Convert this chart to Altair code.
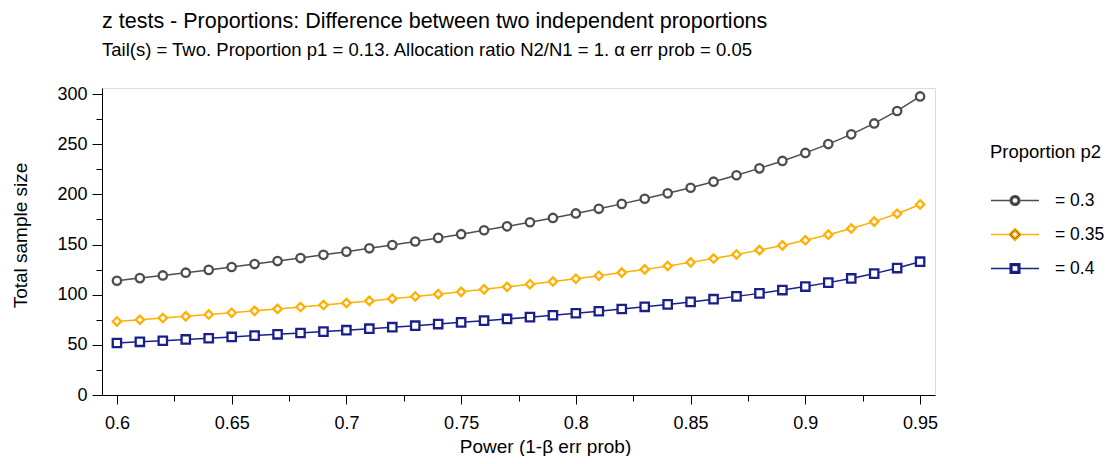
import altair as alt
import pandas as pd

# ---- data ----
power = [0.60, 0.61, 0.62, 0.63, 0.64, 0.65, 0.66, 0.67, 0.68, 0.69,
         0.70, 0.71, 0.72, 0.73, 0.74, 0.75, 0.76, 0.77, 0.78, 0.79,
         0.80, 0.81, 0.82, 0.83, 0.84, 0.85, 0.86, 0.87, 0.88, 0.89,
         0.90, 0.91, 0.92, 0.93, 0.94, 0.95]

series_labels = ["= 0.3", "= 0.35", "= 0.4"]

n_p2_030 = [113.9, 116.5, 119.2, 121.9, 124.7, 127.6, 130.5, 133.5, 136.5, 139.7,
            142.9, 146.2, 149.5, 153.0, 156.6, 160.3, 164.2, 168.1, 172.2, 176.5,
            181.0, 185.6, 190.5, 195.6, 201.0, 206.6, 212.6, 219.0, 225.9, 233.3,
            241.3, 250.1, 259.8, 270.7, 283.1, 297.6]

n_p2_035 = [73.3, 75.0, 76.7, 78.4, 80.2, 82.0, 83.9, 85.8, 87.7, 89.7,
            91.7, 93.8, 96.0, 98.2, 100.5, 102.8, 105.3, 107.8, 110.4, 113.1,
            115.9, 118.9, 122.0, 125.2, 128.6, 132.2, 136.0, 140.1, 144.4, 149.1,
            154.2, 159.8, 165.9, 172.8, 180.7, 189.9]

n_p2_040 = [51.8, 53.0, 54.1, 55.4, 56.6, 57.9, 59.2, 60.5, 61.8, 63.2,
            64.6, 66.1, 67.6, 69.1, 70.7, 72.4, 74.1, 75.8, 77.6, 79.5,
            81.5, 83.5, 85.7, 87.9, 90.3, 92.8, 95.5, 98.3, 101.3, 104.6,
            108.1, 112.0, 116.2, 121.0, 126.5, 132.9]

x_major = [0.6, 0.65, 0.7, 0.75, 0.8, 0.85, 0.9, 0.95]
x_minor = [0.625, 0.675, 0.725, 0.775, 0.825, 0.875, 0.925]
y_major = [0, 50, 100, 150, 200, 250, 300]
y_minor = [25, 75, 125, 175, 225, 275]

title_text = "z tests - Proportions: Difference between two independent proportions"
subtitle_text = "Tail(s) = Two. Proportion p1 = 0.13. Allocation ratio N2/N1 = 1. \u03b1 err prob = 0.05"

# ---- styling ----
FONT = "Liberation Sans"
colors = ["#4D4D4D", "#FFB000", "#1A1F8A"]
shapes = ["circle", "diamond", "square"]

rows = []
for lab, vals in zip(series_labels, [n_p2_030, n_p2_035, n_p2_040]):
    for p, v in zip(power, vals):
        rows.append({"power": p, "n": v, "p2": lab})
df = pd.DataFrame(rows)

x_scale = alt.Scale(domain=[0.5935, 0.9565], nice=False, zero=False)
y_scale = alt.Scale(domain=[0, 306], nice=False)
color_scale = alt.Scale(domain=series_labels, range=colors)
shape_scale = alt.Scale(domain=series_labels, range=shapes)

# legend symbol paths: line segment + hollow marker (annulus)
circ = ("M-1,0L-0.2,0M0.2,0L1,0"
        "M0.2,0A0.2,0.2 0 1,0 -0.2,0A0.2,0.2 0 1,0 0.2,0Z"
        "M0.13,0A0.13,0.13 0 1,1 -0.13,0A0.13,0.13 0 1,1 0.13,0Z")
diam = ("M-1,0L-0.25,0M0.25,0L1,0"
        "M-0.25,0L0,-0.25L0.25,0L0,0.25Z"
        "M-0.14,0L0,0.14L0.14,0L0,-0.14Z")
sqr = ("M-1,0L-0.2,0M0.2,0L1,0"
       "M-0.2,-0.2L0.2,-0.2L0.2,0.2L-0.2,0.2Z"
       "M-0.13,-0.13L-0.13,0.13L0.13,0.13L0.13,-0.13Z")
legend_shape_scale = alt.Scale(domain=series_labels, range=[circ, diam, sqr])

axis_common = dict(
    domainColor="black", domainWidth=1, tickColor="black", tickWidth=1,
    labelFont=FONT, labelFontSize=18, labelColor="black",
    titleFont=FONT, titleFontSize=19, titleColor="black", titleFontWeight="normal",
    grid=False,
)

x_axis = alt.Axis(values=x_major, format=".2~f", tickSize=9, labelPadding=10,
                  title="Power (1-\u03b2 err prob)", titlePadding=5, titleX=443,
                  orient="bottom", labelFlush=False, **axis_common)
y_axis = alt.Axis(values=y_major, format="d", tickSize=10, labelPadding=5,
                  title="Total sample size", titlePadding=26, titleY=147,
                  orient="left", **axis_common)

x_axis_minor = alt.Axis(values=x_minor, labels=False, domain=False, tickSize=6,
                        tickColor="black", tickWidth=1, grid=False, title=None,
                        orient="bottom")
y_axis_minor = alt.Axis(values=y_minor, labels=False, domain=False, tickSize=6,
                        tickColor="black", tickWidth=1, grid=False, title=None,
                        orient="left")

base = alt.Chart(df)

lines = base.mark_line(strokeWidth=1.5).encode(
    x=alt.X("power:Q", scale=x_scale, axis=x_axis),
    y=alt.Y("n:Q", scale=y_scale, axis=y_axis),
    color=alt.Color("p2:N", scale=color_scale, legend=None),
    detail="p2:N",
)

points = base.mark_point(filled=False, fill="white", strokeWidth=2.3, opacity=1).encode(
    x=alt.X("power:Q", scale=x_scale, axis=None),
    y=alt.Y("n:Q", scale=y_scale, axis=None),
    color=alt.Color("p2:N", scale=color_scale, legend=None),
    shape=alt.Shape("p2:N", scale=shape_scale, legend=None),
    size=alt.value(70),
)

minor = base.mark_point(opacity=0).encode(
    x=alt.X("power:Q", scale=x_scale, axis=x_axis_minor),
    y=alt.Y("n:Q", scale=y_scale, axis=y_axis_minor),
).transform_filter("false")

legend_kw = dict(
    title="Proportion p2", orient="none", legendX=888, legendY=55,
    titleFont=FONT, titleFontSize=18.5, titleFontWeight="normal", titleColor="black",
    titlePadding=14, labelFont=FONT, labelFontSize=17.5, labelColor="black",
    labelOffset=15, symbolSize=2304, symbolStrokeWidth=1.5, rowPadding=0,
    padding=0, symbolOpacity=1, labelLimit=200,
)

legend_layer = base.mark_point(filled=True, opacity=1).encode(
    color=alt.Color("p2:N", scale=color_scale, legend=alt.Legend(**legend_kw)),
    stroke=alt.Stroke("p2:N", scale=alt.Scale(domain=series_labels, range=colors),
                      legend=alt.Legend(**legend_kw)),
    shape=alt.Shape("p2:N", scale=legend_shape_scale, legend=alt.Legend(**legend_kw)),
).transform_filter("false")

chart = alt.layer(lines, points, minor, legend_layer).resolve_axis(
    x="independent", y="independent"
).resolve_scale(shape="independent", stroke="independent").properties(
    width=833, height=307,
    padding={"left": 94, "top": 80, "right": 171, "bottom": 61},
    autosize=alt.AutoSizeParams(type="none"),
    title=alt.TitleParams(
        text=title_text, subtitle=subtitle_text, anchor="start", frame="group",
        font=FONT, fontSize=21.5, fontWeight="normal", color="black",
        subtitleFont=FONT, subtitleFontSize=18.5, subtitleColor="black",
        subtitlePadding=8, offset=26,
    ),
).configure_view(stroke=None).configure(background="white")

chart.save("out.html", embed_options={"renderer": "svg", "actions": False})
